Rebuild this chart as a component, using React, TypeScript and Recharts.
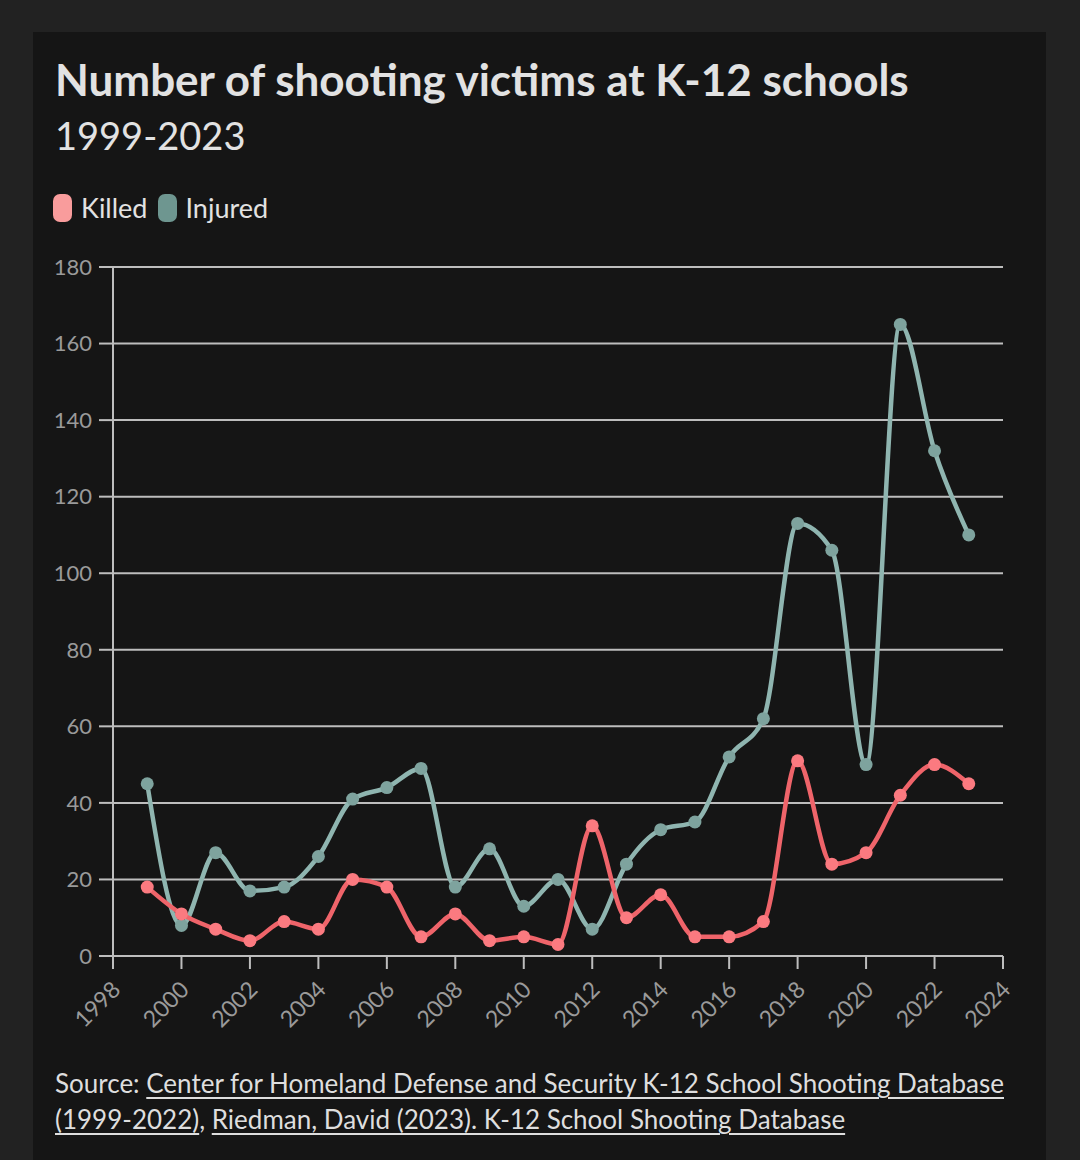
import { CartesianGrid, Line, LineChart, XAxis, YAxis } from 'recharts';

const years = [1999, 2000, 2001, 2002, 2003, 2004, 2005, 2006, 2007, 2008, 2009, 2010, 2011, 2012, 2013, 2014, 2015, 2016, 2017, 2018, 2019, 2020, 2021, 2022, 2023];
const killed = [18, 11, 7, 4, 9, 7, 20, 18, 5, 11, 4, 5, 3, 34, 10, 16, 5, 5, 9, 51, 24, 27, 42, 50, 45];
const injured = [45, 8, 27, 17, 18, 26, 41, 44, 49, 18, 28, 13, 20, 7, 24, 33, 35, 52, 62, 113, 106, 50, 165, 132, 110];
const xTicks = [1998, 2000, 2002, 2004, 2006, 2008, 2010, 2012, 2014, 2016, 2018, 2020, 2022, 2024];
const yTicks = [0, 20, 40, 60, 80, 100, 120, 140, 160, 180];

const data = years.map((year, i) => ({ year, killed: killed[i], injured: injured[i] }));

const FONT = 'Lato, "Noto Sans", sans-serif';
const GRID = '#bdbdbd';
const TICK = '#9a9a9a';

function YearTick({ x, y, payload }: any) {
  return (
    <text
      x={x + 9}
      y={y + 20}
      transform={`rotate(-45 ${x + 9} ${y + 20})`}
      textAnchor="end"
      fill={TICK}
      fontSize={23}
      fontFamily={FONT}
    >
      {payload.value}
    </text>
  );
}

export default function App() {
  const link = { textDecoration: 'underline', textUnderlineOffset: 4 } as const;
  return (
    <div style={{ position: 'absolute', left: 0, top: 0, width: 1080, height: 1160, background: '#222222', fontFamily: FONT, overflow: 'hidden' }}>
      <div style={{ position: 'absolute', left: 33, top: 32, width: 1013, height: 1128, background: '#151515' }}>
        <div style={{ position: 'absolute', left: 22, top: 21, color: '#e2e2e2', fontSize: 44, fontWeight: 700, whiteSpace: 'nowrap' }}>
          Number of shooting victims at K-12 schools
        </div>
        <div style={{ position: 'absolute', left: 22, top: 80, color: '#e2e2e2', fontSize: 38, fontWeight: 400, whiteSpace: 'nowrap' }}>
          1999-2023
        </div>
        <div style={{ position: 'absolute', left: 20, top: 159, display: 'flex', alignItems: 'center', color: '#e2e2e2', fontSize: 27 }}>
          <span style={{ width: 19, height: 28, borderRadius: 7, background: '#f99c9c', display: 'inline-block' }} />
          <span style={{ marginLeft: 9 }}>Killed</span>
          <span style={{ width: 19, height: 28, borderRadius: 7, background: '#6e9690', display: 'inline-block', marginLeft: 10 }} />
          <span style={{ marginLeft: 9 }}>Injured</span>
        </div>
        <div style={{ position: 'absolute', left: 0, top: 208 }}>
          <LineChart width={1013} height={800} data={data} margin={{ top: 27, right: 43, left: 0, bottom: 0 }}>
            <CartesianGrid vertical={false} stroke={GRID} strokeWidth={2} />
            <XAxis
              dataKey="year"
              type="number"
              domain={[1998, 2024]}
              ticks={xTicks}
              interval={0}
              height={84}
              tickSize={13}
              tickLine={{ stroke: GRID, strokeWidth: 2 }}
              axisLine={{ stroke: GRID, strokeWidth: 2 }}
              tick={<YearTick />}
            />
            <YAxis
              domain={[0, 180]}
              ticks={yTicks}
              width={80}
              tickSize={14}
              tickMargin={7}
              tickLine={{ stroke: GRID, strokeWidth: 2 }}
              axisLine={{ stroke: GRID, strokeWidth: 2 }}
              tick={{ fill: TICK, fontSize: 22, fontFamily: FONT }}
            />
            <Line
              type="monotone"
              dataKey="injured"
              stroke="#8fb5b0"
              strokeWidth={4.5}
              dot={{ r: 6.5, fill: '#7ea39e', stroke: 'none' }}
              activeDot={false}
              isAnimationActive={false}
            />
            <Line
              type="monotone"
              dataKey="killed"
              stroke="#ef646a"
              strokeWidth={4.5}
              dot={{ r: 6.5, fill: '#fb7a80', stroke: 'none' }}
              activeDot={false}
              isAnimationActive={false}
            />
          </LineChart>
        </div>
        <div style={{ position: 'absolute', left: 22, top: 1033, width: 990, color: '#dedede', fontSize: 26, lineHeight: '36px', whiteSpace: 'nowrap' }}>
          Source: <span style={link}>Center for Homeland Defense and Security K-12 School Shooting Database<br />(1999-2022)</span>,{' '}
          <span style={link}>Riedman, David (2023). K-12 School Shooting Database</span>
        </div>
      </div>
    </div>
  );
}
